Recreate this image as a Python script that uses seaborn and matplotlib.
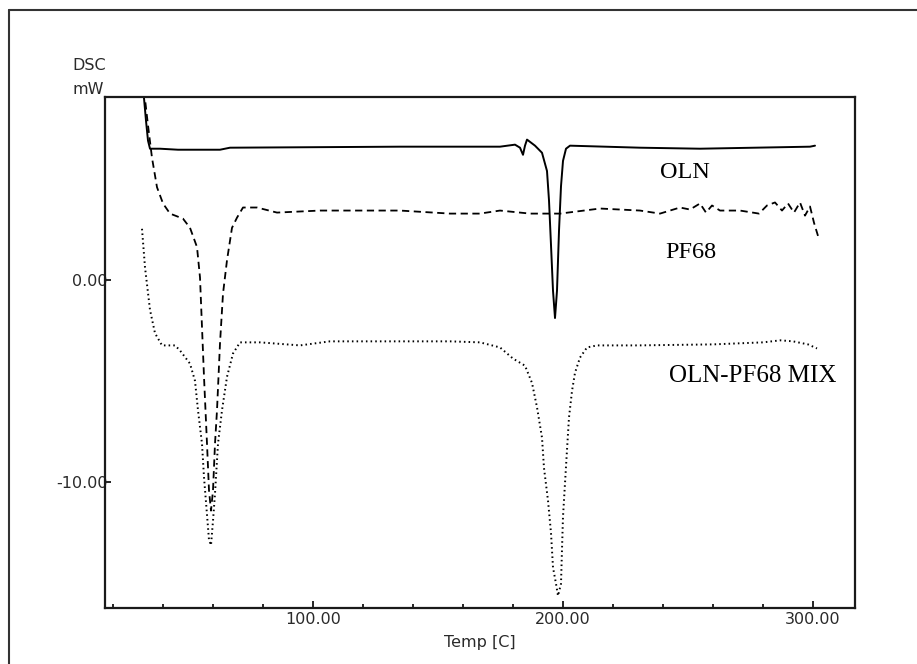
import matplotlib
matplotlib.use("Agg")
import matplotlib.pyplot as plt
from matplotlib.lines import Line2D
from matplotlib.ticker import MultipleLocator, FixedLocator
import seaborn as sns
import pandas as pd

# ---------------- data ----------------
oln_x = [32.0, 33.2, 34.0, 34.8, 38.8, 46.0, 62.8, 66.8, 134.8, 174.8, 180.8, 182.8,
         184.0, 184.8, 185.6, 188.8, 191.6, 193.6, 194.4, 195.2, 196.0, 196.8, 197.6,
         198.4, 199.2, 200.0, 201.2, 202.8, 230.8, 254.8, 298.8, 300.8]
oln_y = [9.5, 7.83, 6.85, 6.45, 6.45, 6.4, 6.4, 6.5, 6.55, 6.55, 6.65, 6.5,
         6.15, 6.6, 6.9, 6.6, 6.25, 5.35, 3.9, 1.7, -0.55, -1.9, -0.55,
         2.4, 4.6, 5.85, 6.45, 6.6, 6.5, 6.45, 6.55, 6.6]

pf68_x = [32.0, 32.8, 34.0, 35.6, 37.6, 40.0, 42.8, 48.0, 50.8, 53.6, 54.8, 55.6,
          56.4, 57.6, 58.4, 59.2, 60.0, 60.8, 61.6, 62.8, 64.0, 65.6, 67.6, 69.6,
          72.0, 77.6, 85.6, 102.8, 134.8, 154.8, 166.8, 174.8, 186.8, 198.8, 214.8,
          230.8, 238.8, 246.8, 250.8, 254.8, 257.2, 259.6, 262.8, 270.8, 278.4,
          281.6, 284.8, 287.6, 290.0, 292.4, 294.8, 296.8, 298.8, 300.4, 302.0]
pf68_y = [9.3, 8.9, 7.6, 6.0, 4.55, 3.75, 3.25, 3.0, 2.55, 1.6, 0.1, -2.35,
          -4.8, -8.1, -10.4, -11.4, -10.4, -8.1, -6.45, -3.15, -0.7, 0.95, 2.55, 3.05,
          3.55, 3.55, 3.3, 3.4, 3.4, 3.25, 3.25, 3.4, 3.25, 3.25, 3.5,
          3.4, 3.25, 3.55, 3.45, 3.75, 3.3, 3.65, 3.4, 3.4, 3.25,
          3.65, 3.8, 3.4, 3.75, 3.3, 3.8, 3.15, 3.6, 2.8, 2.15]

mix_x = [31.6, 32.8, 34.8, 36.8, 39.6, 44.8, 46.8, 50.8, 52.8, 54.0, 55.6, 56.4,
         57.6, 58.4, 59.2, 60.0, 60.8, 62.0, 63.6, 65.6, 68.0, 70.8, 78.8, 94.8,
         106.8, 134.8, 154.8, 166.8, 174.8, 180.0, 184.8, 187.6, 189.6, 191.6,
         192.4, 194.0, 195.2, 196.0, 197.2, 198.0, 199.2, 199.6, 200.0, 200.8,
         201.6, 202.4, 203.6, 204.8, 206.8, 209.6, 213.6, 230.0, 260.0, 280.0,
         287.0, 292.0, 298.0, 301.6]
mix_y = [2.5, 0.6, -1.5, -2.65, -3.25, -3.25, -3.5, -4.15, -5.0, -6.45, -8.1, -9.75,
         -11.6, -12.85, -13.1, -11.9, -10.55, -8.1, -6.45, -4.8, -3.65, -3.1, -3.1, -3.25,
         -3.05, -3.05, -3.05, -3.1, -3.35, -3.9, -4.25, -5.1, -6.3, -7.8,
         -9.3, -10.9, -12.5, -14.2, -15.0, -15.6, -15.0, -13.3, -11.7, -10.05,
         -8.4, -6.8, -5.5, -4.6, -3.85, -3.35, -3.25, -3.25, -3.2, -3.1,
         -3.0, -3.05, -3.2, -3.4]

x_major = [100, 200, 300]
x_labels = ["100.00", "200.00", "300.00"]
y_major = [0, -10]
y_labels = ["0.00", "-10.00"]
series_labels = ["OLN", "PF68", "OLN-PF68 MIX"]

# ---------------- figure ----------------
sns.set_theme(style="white")
plt.rcParams['font.family'] = ['DejaVu Sans']

fig = plt.figure(figsize=(9.17, 6.64), dpi=100)
fig.patch.set_facecolor("white")
ax = fig.add_axes([105 / 917, 1 - 608 / 664, 750 / 917, 511 / 664])

df_oln = pd.DataFrame({"x": oln_x, "y": oln_y})
df_pf = pd.DataFrame({"x": pf68_x, "y": pf68_y})
df_mix = pd.DataFrame({"x": mix_x, "y": mix_y})

sns.lineplot(data=df_oln, x="x", y="y", ax=ax, color="black", lw=1.4,
             estimator=None, sort=False)
sns.lineplot(data=df_pf, x="x", y="y", ax=ax, color="black", lw=1.3,
             estimator=None, sort=False, linestyle=(0, (4.0, 2.5)))
sns.lineplot(data=df_mix, x="x", y="y", ax=ax, color="black", lw=1.4,
             estimator=None, sort=False, linestyle=(0, (0.8, 1.6)))

ax.set_xlim(16.8, 316.8)
ax.set_ylim(-16.2, 9.0)

ax.xaxis.set_major_locator(FixedLocator(x_major))
ax.set_xticklabels(x_labels)
ax.xaxis.set_minor_locator(MultipleLocator(20))
ax.yaxis.set_major_locator(FixedLocator(y_major))
ax.set_yticklabels(y_labels)

label_color = "#2a2a2a"
ax.tick_params(axis="x", which="major", direction="in", length=5, width=1.2,
               colors="black", labelcolor=label_color, labelsize=11.5, pad=3,
               bottom=True)
ax.tick_params(axis="x", which="minor", direction="in", length=3, width=1.2,
               colors="black", bottom=True)
ax.tick_params(axis="y", which="major", direction="in", length=4, width=1.2,
               colors="black", labelcolor=label_color, labelsize=11.5, pad=-2,
               left=True)

for s in ax.spines.values():
    s.set_visible(True)
    s.set_color("#1a1a1a")
    s.set_linewidth(1.6)

ax.set_xlabel("Temp [C]", fontsize=11.5, color=label_color)
ax.set_ylabel("")
ax.xaxis.set_label_coords(0.5, -0.053)

fig.text(72 / 917, 1 - 65 / 664, "DSC", fontsize=11.5, color=label_color,
         ha="left", va="center")
fig.text(72 / 917, 1 - 89 / 664, "mW", fontsize=11.5, color=label_color,
         ha="left", va="center")

serif = ["Liberation Serif", "DejaVu Serif"]
fig.text(685 / 917, 1 - 173 / 664, series_labels[0], fontsize=17.5,
         family=serif, ha="center", va="center", color="black")
fig.text(691 / 917, 1 - 252 / 664, series_labels[1], fontsize=17.5,
         family=serif, ha="center", va="center", color="black")
fig.text(753 / 917, 1 - 376 / 664, series_labels[2], fontsize=18,
         family=serif, ha="center", va="center", color="black")

# outer frame (left and top edges visible)
fig.add_artist(Line2D([9 / 917, 9 / 917], [0, 1 - 10 / 664],
                      transform=fig.transFigure, color="#333333", lw=1.5))
fig.add_artist(Line2D([9 / 917, 1], [1 - 10 / 664, 1 - 10 / 664],
                      transform=fig.transFigure, color="#333333", lw=1.5))

fig.savefig("out.png", dpi=100, facecolor="white")
